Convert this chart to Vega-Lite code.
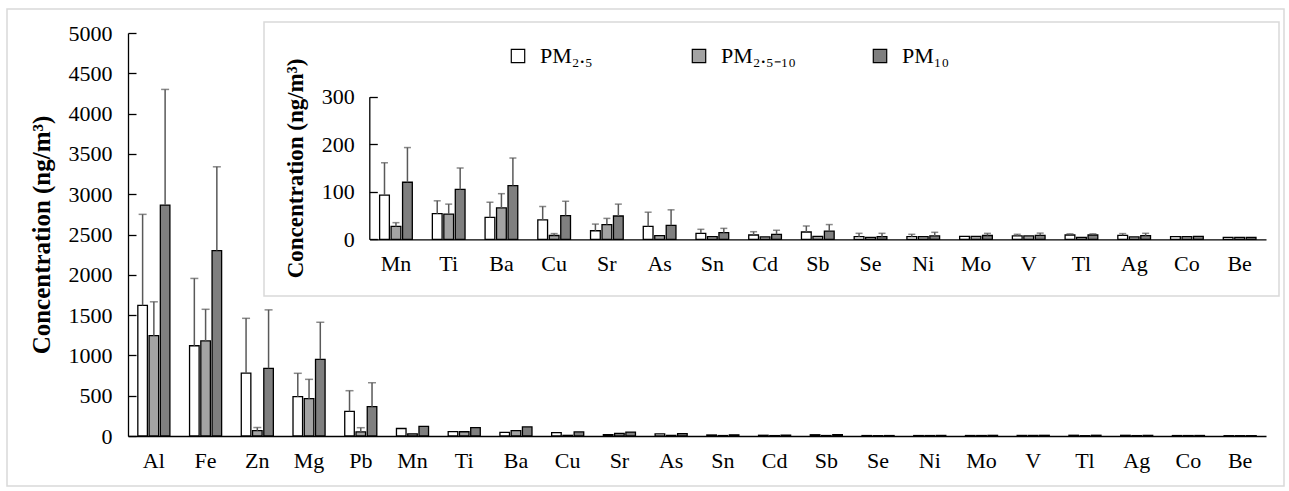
{
  "$schema": "https://vega.github.io/schema/vega-lite/v6.json",
  "width": 1138,
  "height": 403,
  "autosize": {"type": "none"},
  "padding": {"left": 128, "top": 33, "right": 23, "bottom": 55},
  "background": "white",
  "config": {
    "font": "Liberation Serif",
    "view": {"stroke": null},
    "axis": {"domainColor": "black", "tickColor": "black", "labelColor": "black", "titleColor": "black", "domainWidth": 1.3, "tickWidth": 1.3, "labelFont": "Liberation Serif", "titleFont": "Liberation Serif", "grid": false},
    "legend": {"labelFont": "Liberation Serif"}
  },
  "data": {"values": [
    {"element": "Al", "fraction": "PM₂.₅", "mean": 1620, "upper": 2750},
    {"element": "Al", "fraction": "PM₂.₅₋₁₀", "mean": 1245, "upper": 1665},
    {"element": "Al", "fraction": "PM₁₀", "mean": 2865, "upper": 4300},
    {"element": "Fe", "fraction": "PM₂.₅", "mean": 1120, "upper": 1955},
    {"element": "Fe", "fraction": "PM₂.₅₋₁₀", "mean": 1180, "upper": 1572},
    {"element": "Fe", "fraction": "PM₁₀", "mean": 2300, "upper": 3340},
    {"element": "Zn", "fraction": "PM₂.₅", "mean": 780, "upper": 1460},
    {"element": "Zn", "fraction": "PM₂.₅₋₁₀", "mean": 66, "upper": 105},
    {"element": "Zn", "fraction": "PM₁₀", "mean": 840, "upper": 1565},
    {"element": "Mg", "fraction": "PM₂.₅", "mean": 488, "upper": 778},
    {"element": "Mg", "fraction": "PM₂.₅₋₁₀", "mean": 463, "upper": 703},
    {"element": "Mg", "fraction": "PM₁₀", "mean": 951, "upper": 1411},
    {"element": "Pb", "fraction": "PM₂.₅", "mean": 306, "upper": 562},
    {"element": "Pb", "fraction": "PM₂.₅₋₁₀", "mean": 50, "upper": 103},
    {"element": "Pb", "fraction": "PM₁₀", "mean": 364, "upper": 661},
    {"element": "Mn", "fraction": "PM₂.₅", "mean": 93, "upper": 161},
    {"element": "Mn", "fraction": "PM₂.₅₋₁₀", "mean": 27, "upper": 35},
    {"element": "Mn", "fraction": "PM₁₀", "mean": 120, "upper": 193},
    {"element": "Ti", "fraction": "PM₂.₅", "mean": 54, "upper": 81},
    {"element": "Ti", "fraction": "PM₂.₅₋₁₀", "mean": 53, "upper": 74},
    {"element": "Ti", "fraction": "PM₁₀", "mean": 105, "upper": 150},
    {"element": "Ba", "fraction": "PM₂.₅", "mean": 46, "upper": 78},
    {"element": "Ba", "fraction": "PM₂.₅₋₁₀", "mean": 66, "upper": 96},
    {"element": "Ba", "fraction": "PM₁₀", "mean": 113, "upper": 171},
    {"element": "Cu", "fraction": "PM₂.₅", "mean": 41, "upper": 69},
    {"element": "Cu", "fraction": "PM₂.₅₋₁₀", "mean": 8, "upper": 12},
    {"element": "Cu", "fraction": "PM₁₀", "mean": 50, "upper": 80},
    {"element": "Sr", "fraction": "PM₂.₅", "mean": 18, "upper": 32},
    {"element": "Sr", "fraction": "PM₂.₅₋₁₀", "mean": 31, "upper": 44},
    {"element": "Sr", "fraction": "PM₁₀", "mean": 49, "upper": 74},
    {"element": "As", "fraction": "PM₂.₅", "mean": 27, "upper": 57},
    {"element": "As", "fraction": "PM₂.₅₋₁₀", "mean": 7.7},
    {"element": "As", "fraction": "PM₁₀", "mean": 29.5, "upper": 62},
    {"element": "Sn", "fraction": "PM₂.₅", "mean": 12.6, "upper": 21},
    {"element": "Sn", "fraction": "PM₂.₅₋₁₀", "mean": 5.6},
    {"element": "Sn", "fraction": "PM₁₀", "mean": 14, "upper": 23},
    {"element": "Cd", "fraction": "PM₂.₅", "mean": 9, "upper": 16},
    {"element": "Cd", "fraction": "PM₂.₅₋₁₀", "mean": 5},
    {"element": "Cd", "fraction": "PM₁₀", "mean": 10.5, "upper": 19},
    {"element": "Sb", "fraction": "PM₂.₅", "mean": 15.4, "upper": 28},
    {"element": "Sb", "fraction": "PM₂.₅₋₁₀", "mean": 6},
    {"element": "Sb", "fraction": "PM₁₀", "mean": 17, "upper": 31},
    {"element": "Se", "fraction": "PM₂.₅", "mean": 5.6, "upper": 12.6},
    {"element": "Se", "fraction": "PM₂.₅₋₁₀", "mean": 4},
    {"element": "Se", "fraction": "PM₁₀", "mean": 5.6, "upper": 12.6},
    {"element": "Ni", "fraction": "PM₂.₅", "mean": 5.6, "upper": 10.5},
    {"element": "Ni", "fraction": "PM₂.₅₋₁₀", "mean": 5.6},
    {"element": "Ni", "fraction": "PM₁₀", "mean": 7, "upper": 14.7},
    {"element": "Mo", "fraction": "PM₂.₅", "mean": 6},
    {"element": "Mo", "fraction": "PM₂.₅₋₁₀", "mean": 6},
    {"element": "Mo", "fraction": "PM₁₀", "mean": 8, "upper": 12.5},
    {"element": "V", "fraction": "PM₂.₅", "mean": 7, "upper": 10.5},
    {"element": "V", "fraction": "PM₂.₅₋₁₀", "mean": 7},
    {"element": "V", "fraction": "PM₁₀", "mean": 8.4, "upper": 13},
    {"element": "Tl", "fraction": "PM₂.₅", "mean": 9, "upper": 11.5},
    {"element": "Tl", "fraction": "PM₂.₅₋₁₀", "mean": 4},
    {"element": "Tl", "fraction": "PM₁₀", "mean": 9, "upper": 11.5},
    {"element": "Ag", "fraction": "PM₂.₅", "mean": 8.4, "upper": 12},
    {"element": "Ag", "fraction": "PM₂.₅₋₁₀", "mean": 4.9},
    {"element": "Ag", "fraction": "PM₁₀", "mean": 7.7, "upper": 12.6},
    {"element": "Co", "fraction": "PM₂.₅", "mean": 5.6},
    {"element": "Co", "fraction": "PM₂.₅₋₁₀", "mean": 5.6},
    {"element": "Co", "fraction": "PM₁₀", "mean": 6.3},
    {"element": "Be", "fraction": "PM₂.₅", "mean": 4},
    {"element": "Be", "fraction": "PM₂.₅₋₁₀", "mean": 4},
    {"element": "Be", "fraction": "PM₁₀", "mean": 4}
  ]},
  "resolve": {"scale": {"x": "independent", "y": "independent", "xOffset": "independent"}},
  "layer": [
    {
      "data": {"values": [{}]},
      "mark": {"type": "rect", "fillOpacity": 0, "stroke": "#d9d9d9", "strokeWidth": 1.5},
      "encoding": {
        "x": {"datum": 0, "type": "quantitative", "scale": {"domain": [0, 1], "range": [-121, 1156]}, "axis": null},
        "x2": {"datum": 1},
        "y": {"datum": 0, "type": "quantitative", "scale": {"domain": [0, 1], "range": [-24, 453]}, "axis": null},
        "y2": {"datum": 1}
      }
    },
    {
      "data": {"values": [{}]},
      "mark": {"type": "rect", "fillOpacity": 0, "stroke": "#d9d9d9", "strokeWidth": 1.5},
      "encoding": {
        "x": {"datum": 0, "type": "quantitative", "scale": {"domain": [0, 1], "range": [136, 1151]}, "axis": null},
        "x2": {"datum": 1},
        "y": {"datum": 0, "type": "quantitative", "scale": {"domain": [0, 1], "range": [-11, 263]}, "axis": null},
        "y2": {"datum": 1}
      }
    },
    {
      "layer": [
        {
          "mark": {"type": "bar", "stroke": "black", "strokeWidth": 1.3},
          "encoding": {
            "x": {"field": "element", "type": "nominal", "sort": ["Al","Fe","Zn","Mg","Pb","Mn","Ti","Ba","Cu","Sr","As","Sn","Cd","Sb","Se","Ni","Mo","V","Tl","Ag","Co","Be"],
                  "scale": {"paddingInner": 0.38, "paddingOuter": 0.19},
                  "axis": {"orient": "bottom", "title": null, "labelAngle": 0, "ticks": false, "labelPadding": 14, "labelFontSize": 22}},
            "xOffset": {"field": "fraction", "type": "nominal", "sort": ["PM₂.₅", "PM₂.₅₋₁₀", "PM₁₀"], "scale": {"paddingInner": 0.15}},
            "y": {"field": "mean", "type": "quantitative", "scale": {"domain": [0, 5000], "nice": false},
                  "axis": {"orient": "left", "title": "Concentration (ng/m³)", "format": "d", "values": [0,500,1000,1500,2000,2500,3000,3500,4000,4500,5000], "tickSize": -8, "labelPadding": 24, "labelFontSize": 22, "titleFontSize": 25, "titleFontWeight": "bold", "titlePadding": 14}},
            "fill": {"field": "fraction", "type": "nominal", "sort": ["PM₂.₅", "PM₂.₅₋₁₀", "PM₁₀"],
                     "scale": {"domain": ["PM₂.₅", "PM₂.₅₋₁₀", "PM₁₀"], "range": ["#ffffff", "#a3a3a3", "#7f7f7f"]},
                     "legend": {"title": null, "orient": "none", "legendX": 379, "legendY": 12, "direction": "horizontal", "symbolType": "square", "symbolSize": 180, "symbolStrokeColor": "black", "symbolStrokeWidth": 1.2, "labelFontSize": 22, "labelOffset": 11, "columnPadding": 73, "gridAlign": "all", "labelColor": "black"}}
          }
        },
        {
          "transform": [{"filter": {"field": "element", "oneOf": ["Al","Fe","Zn","Mg","Pb"]}}],
          "mark": {"type": "rule", "color": "#595959", "strokeWidth": 1.5},
          "encoding": {
            "x": {"field": "element", "type": "nominal", "sort": ["Al","Fe","Zn","Mg","Pb","Mn","Ti","Ba","Cu","Sr","As","Sn","Cd","Sb","Se","Ni","Mo","V","Tl","Ag","Co","Be"]},
            "xOffset": {"field": "fraction", "type": "nominal", "sort": ["PM₂.₅", "PM₂.₅₋₁₀", "PM₁₀"]},
            "y": {"field": "mean", "type": "quantitative"},
            "y2": {"field": "upper"}
          }
        },
        {
          "transform": [{"filter": {"field": "element", "oneOf": ["Al","Fe","Zn","Mg","Pb"]}}],
          "mark": {"type": "tick", "color": "#595959", "thickness": 1.5, "size": 8},
          "encoding": {
            "x": {"field": "element", "type": "nominal", "sort": ["Al","Fe","Zn","Mg","Pb","Mn","Ti","Ba","Cu","Sr","As","Sn","Cd","Sb","Se","Ni","Mo","V","Tl","Ag","Co","Be"]},
            "xOffset": {"field": "fraction", "type": "nominal", "sort": ["PM₂.₅", "PM₂.₅₋₁₀", "PM₁₀"]},
            "y": {"field": "upper", "type": "quantitative"}
          }
        }
      ]
    },
    {
      "transform": [{"filter": {"not": {"field": "element", "oneOf": ["Al","Fe","Zn","Mg","Pb"]}}}],
      "layer": [
        {
          "mark": {"type": "bar", "stroke": "black", "strokeWidth": 1.3},
          "encoding": {
            "x": {"field": "element", "type": "nominal", "sort": ["Mn","Ti","Ba","Cu","Sr","As","Sn","Cd","Sb","Se","Ni","Mo","V","Tl","Ag","Co","Be"],
                  "scale": {"paddingInner": 0.38, "paddingOuter": 0.19, "range": [241.6, 1138]},
                  "axis": {"orient": "bottom", "offset": -196.7, "title": null, "labelAngle": 0, "ticks": false, "labelPadding": 14, "labelFontSize": 22}},
            "xOffset": {"field": "fraction", "type": "nominal", "sort": ["PM₂.₅", "PM₂.₅₋₁₀", "PM₁₀"], "scale": {"paddingInner": 0.15}},
            "y": {"field": "mean", "type": "quantitative", "scale": {"domain": [0, 300], "nice": false, "range": [206.3, 63.7]},
                  "axis": {"orient": "left", "offset": -241.3, "title": "Concentration (ng/m³)", "format": "d", "values": [0, 100, 200, 300], "tickSize": -8, "labelPadding": 23, "labelFontSize": 22, "titleFontSize": 23, "titleFontWeight": "bold", "titlePadding": 14}},
            "fill": {"field": "fraction", "type": "nominal", "sort": ["PM₂.₅", "PM₂.₅₋₁₀", "PM₁₀"]}
          }
        },
        {
          "transform": [{"filter": {"field": "upper", "valid": true}}],
          "mark": {"type": "rule", "color": "#595959", "strokeWidth": 1.5},
          "encoding": {
            "x": {"field": "element", "type": "nominal", "sort": ["Mn","Ti","Ba","Cu","Sr","As","Sn","Cd","Sb","Se","Ni","Mo","V","Tl","Ag","Co","Be"]},
            "xOffset": {"field": "fraction", "type": "nominal", "sort": ["PM₂.₅", "PM₂.₅₋₁₀", "PM₁₀"]},
            "y": {"field": "mean", "type": "quantitative"},
            "y2": {"field": "upper"}
          }
        },
        {
          "transform": [{"filter": {"field": "upper", "valid": true}}],
          "mark": {"type": "tick", "color": "#595959", "thickness": 1.5, "size": 7},
          "encoding": {
            "x": {"field": "element", "type": "nominal", "sort": ["Mn","Ti","Ba","Cu","Sr","As","Sn","Cd","Sb","Se","Ni","Mo","V","Tl","Ag","Co","Be"]},
            "xOffset": {"field": "fraction", "type": "nominal", "sort": ["PM₂.₅", "PM₂.₅₋₁₀", "PM₁₀"]},
            "y": {"field": "upper", "type": "quantitative"}
          }
        }
      ]
    }
  ]
}
